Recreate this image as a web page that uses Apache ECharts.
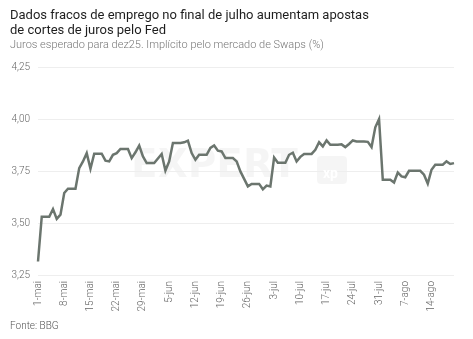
<!DOCTYPE html>
<html>
<head>
<meta charset="utf-8">
<script src="https://cdn.jsdelivr.net/npm/echarts@6/dist/echarts.min.js"></script>
<style>
  html, body { margin: 0; padding: 0; background: #fff; }
  #chart { width: 473px; height: 339px; }
</style>
</head>
<body>
<div id="chart"></div>
<script>
// Expected Fed funds rate for Dec/25 implied by swaps (%), daily from 1 May 2025
const startDate = '2025-05-01';
const dayCount = 112;
const monthNames = ['jan', 'fev', 'mar', 'abr', 'mai', 'jun', 'jul', 'ago', 'set', 'out', 'nov', 'dez'];

const rateValues = [
  3.315, 3.53, 3.53, 3.53, 3.567, 3.52, 3.54, 3.644, 3.665, 3.665,
  3.665, 3.764, 3.796, 3.836, 3.761, 3.833, 3.833, 3.833, 3.80, 3.796,
  3.828, 3.836, 3.856, 3.856, 3.856, 3.812, 3.84, 3.872, 3.82, 3.788,
  3.788, 3.788, 3.81, 3.832, 3.752, 3.796, 3.885, 3.885, 3.885, 3.888,
  3.896, 3.836, 3.804, 3.828, 3.828, 3.828, 3.861, 3.873, 3.848, 3.844,
  3.812, 3.812, 3.812, 3.796, 3.748, 3.712, 3.676, 3.688, 3.688, 3.688,
  3.662, 3.68, 3.676, 3.815, 3.79, 3.79, 3.79, 3.828, 3.838, 3.796,
  3.818, 3.832, 3.832, 3.832, 3.852, 3.888, 3.868, 3.897, 3.876, 3.876,
  3.876, 3.878, 3.865, 3.88, 3.897, 3.892, 3.892, 3.892, 3.89, 3.865,
  3.96, 4.00, 3.708, 3.708, 3.708, 3.695, 3.743, 3.724, 3.72, 3.751,
  3.751, 3.751, 3.751, 3.732, 3.689, 3.756, 3.78, 3.78, 3.78, 3.796,
  3.784, 3.788
];

const tickLabels = ['1-mai', '8-mai', '15-mai', '22-mai', '29-mai', '5-jun', '12-jun', '19-jun',
  '26-jun', '3-jul', '10-jul', '17-jul', '24-jul', '31-jul', '7-ago', '14-ago'];

const titleLines = ['Dados fracos de emprego no final de julho aumentam apostas', 'de cortes de juros pelo Fed'];
const subtitleText = 'Juros esperado para dez25. Implícito pelo mercado de Swaps (%)';
const sourceText = 'Fonte: BBG';

// one category per calendar day
const days = [];
const base = new Date(startDate + 'T00:00:00Z');
for (let i = 0; i < dayCount; i++) {
  const d = new Date(base.getTime() + i * 86400000);
  days.push(d.getUTCDate() + '-' + monthNames[d.getUTCMonth()]);
}

const chart = echarts.init(document.getElementById('chart'), null, { renderer: 'canvas' });
const font = 'Roboto, "Open Sans", sans-serif';

chart.setOption({
  animation: false,
  backgroundColor: '#ffffff',
  textStyle: { fontFamily: font },
  title: [
    {
      text: titleLines.join('\n'),
      left: 5, top: 3,
      textStyle: { fontFamily: font, fontSize: 13, fontWeight: 400, color: '#1e1e1e', lineHeight: 15 }
    },
    {
      text: subtitleText,
      left: 5, top: 35,
      textStyle: { fontFamily: font, fontSize: 11, fontWeight: 300, color: '#777' }
    },
    {
      text: sourceText,
      left: 5, top: 316,
      textStyle: { fontFamily: font, fontSize: 10, fontWeight: 300, color: '#555' }
    }
  ],
  graphic: [
    {
      type: 'text', left: 131, top: 147, silent: true, z: 0,
      style: { text: 'EXPERT', font: 'bold 39px "DejaVu Sans", sans-serif', fill: 'rgba(0,0,0,0.04)' }
    },
    {
      type: 'rect', left: 317, top: 156, silent: true, z: 0,
      shape: { width: 30, height: 28, r: 4 },
      style: { fill: 'rgba(0,0,0,0.04)' }
    },
    {
      type: 'text', left: 323, top: 167, silent: true, z: 1,
      style: { text: 'xp', font: 'bold 14px ' + font, fill: '#ffffff' }
    }
  ],
  grid: { left: 38, right: 19, top: 67, bottom: 64, containLabel: false },
  xAxis: {
    type: 'category',
    data: days,
    boundaryGap: false,
    axisLine: { show: false },
    axisTick: { show: false },
    axisLabel: {
      interval: (idx, val) => tickLabels.indexOf(val) >= 0,
      rotate: 90,
      margin: 6,
      fontSize: 10,
      fontWeight: 300,
      color: '#666',
      fontFamily: font
    },
    splitLine: { show: false }
  },
  yAxis: {
    type: 'value',
    min: 3.25, max: 4.25, interval: 0.25,
    axisLine: { show: false },
    axisTick: { show: false },
    axisLabel: {
      margin: 8,
      fontSize: 10,
      fontWeight: 300,
      color: '#666',
      fontFamily: font,
      formatter: v => v.toFixed(2).replace('.', ',')
    },
    splitLine: { lineStyle: { color: '#eeeeee', width: 1 } }
  },
  series: [{
    type: 'line',
    data: rateValues,
    symbol: 'none',
    smooth: false,
    lineStyle: { color: '#6b756e', width: 2.5, join: 'miter' },
    z: 3
  }]
});
</script>
</body>
</html>
